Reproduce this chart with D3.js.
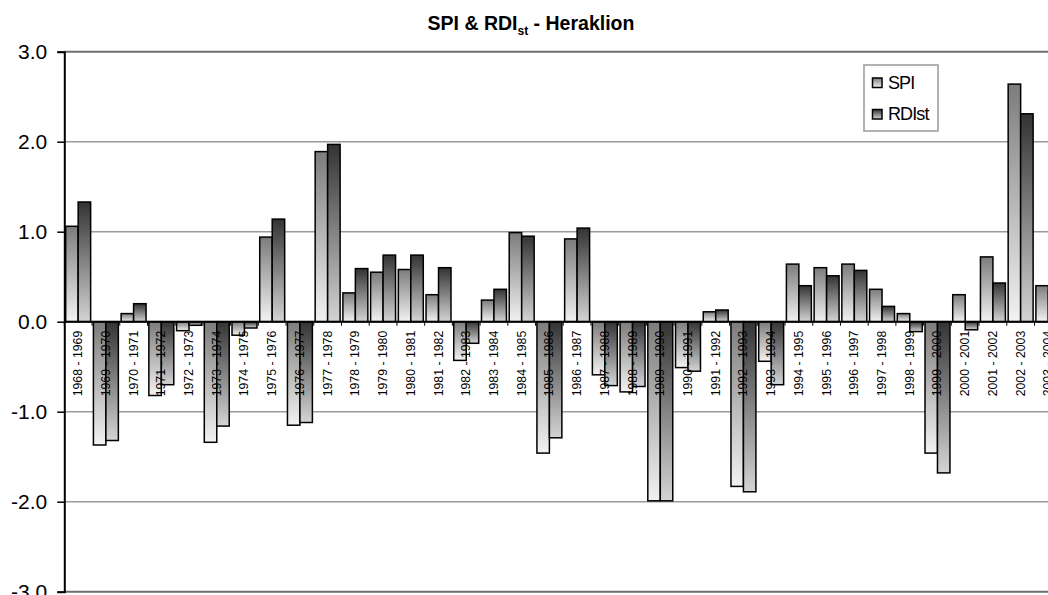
<!DOCTYPE html>
<html>
<head>
<meta charset="utf-8">
<script src="https://cdn.jsdelivr.net/npm/d3@7"></script>
<style>
  html, body { margin: 0; padding: 0; background: #fff; }
  svg { display: block; font-family: "Liberation Sans", Arial, sans-serif; }
</style>
</head>
<body>
<svg id="chart" width="1048" height="595"></svg>
<script>
// hydrological years
const categories = [
  '1968 - 1969', '1969 - 1970', '1970 - 1971', '1971 - 1972', '1972 - 1973', '1973 - 1974',
  '1974 - 1975', '1975 - 1976', '1976 - 1977', '1977 - 1978', '1978 - 1979', '1979 - 1980',
  '1980 - 1981', '1981 - 1982', '1982 - 1983', '1983 - 1984', '1984 - 1985', '1985 - 1986',
  '1986 - 1987', '1987 - 1988', '1988 - 1989', '1989 - 1990', '1990 - 1991', '1991 - 1992',
  '1992 - 1993', '1993 - 1994', '1994 - 1995', '1995 - 1996', '1996 - 1997', '1997 - 1998',
  '1998 - 1999', '1999 - 2000', '2000 - 2001', '2001 - 2002', '2002 - 2003', '2003 - 2004'
];

const spi = [
  1.06, -1.37, 0.09, -0.82, -0.10, -1.34, -0.15, 0.94, -1.15, 1.89, 0.32, 0.55,
  0.58, 0.30, -0.43, 0.24, 0.99, -1.46, 0.92, -0.59, -0.78, -1.99, -0.51, 0.11,
  -1.83, -0.44, 0.64, 0.60, 0.64, 0.36, 0.09, -1.46, 0.30, 0.72, 2.64, 0.40
];

const rdi = [
  1.33, -1.32, 0.20, -0.70, -0.04, -1.16, -0.07, 1.14, -1.12, 1.97, 0.59, 0.74,
  0.74, 0.60, -0.24, 0.36, 0.95, -1.29, 1.04, -0.71, -0.72, -1.99, -0.55, 0.13,
  -1.89, -0.70, 0.40, 0.51, 0.57, 0.17, -0.11, -1.68, -0.09, 0.43, 2.31, 0.35
];

const yTicks = [3, 2, 1, 0, -1, -2, -3];
const yTickLabels = ['3.0', '2.0', '1.0', '0.0', '-1.0', '-2.0', '-3.0'];

const seriesNames = ['SPI', 'RDIst'];

const svg = d3.select('#chart');
const defs = svg.append('defs');

// each bar gets its own top-to-bottom shading, like the Excel fill
const fills = [
  { id: 'gSpi', top: '#7c7c7c', bottom: '#f2f2f2' },
  { id: 'gRdi', top: '#333333', bottom: '#d4d4d4' }
];
fills.forEach(f => {
  const g = defs.append('linearGradient')
    .attr('id', f.id)
    .attr('x1', 0).attr('y1', 0).attr('x2', 0).attr('y2', 1);
  g.append('stop').attr('offset', '0%').attr('stop-color', f.top);
  g.append('stop').attr('offset', '100%').attr('stop-color', f.bottom);
});

const plotLeft = 64.3, plotTop = 51.7, plotBottom = 591.7;
const step = 27.72;

const y = d3.scaleLinear().domain([-3, 3]).range([plotBottom, plotTop]);

const x = d3.scaleBand()
  .domain(categories)
  .range([plotLeft, plotLeft + step * categories.length])
  .paddingInner(0.1)
  .paddingOuter(0.05);

const xs = d3.scaleBand().domain(seriesNames).range([0, x.bandwidth()]);

// gridlines
svg.append('g')
  .selectAll('line')
  .data(yTicks.filter(d => d !== 0))
  .join('line')
  .attr('x1', plotLeft).attr('x2', 1048)
  .attr('y1', d => y(d)).attr('y2', d => y(d))
  .attr('stroke', d => (d === 3 || d === -3) ? '#6e6e6e' : '#9a9a9a')
  .attr('stroke-width', d => (d === 3 || d === -3) ? 2 : 1.5);

// bars
const series = [spi, rdi];
series.forEach((vals, si) => {
  svg.append('g')
    .selectAll('rect')
    .data(vals)
    .join('rect')
    .attr('x', (d, i) => x(categories[i]) + xs(seriesNames[si]))
    .attr('width', xs.bandwidth())
    .attr('y', d => y(Math.max(0, d)))
    .attr('height', d => Math.abs(y(d) - y(0)))
    .attr('fill', `url(#${fills[si].id})`)
    .attr('stroke', '#000')
    .attr('stroke-width', 1.5);
});

// category axis on the zero line
svg.append('line')
  .attr('x1', plotLeft).attr('x2', 1048)
  .attr('y1', y(0)).attr('y2', y(0))
  .attr('stroke', '#000').attr('stroke-width', 2);

svg.append('g')
  .selectAll('line')
  .data(d3.range(categories.length + 1))
  .join('line')
  .attr('x1', i => plotLeft + i * step).attr('x2', i => plotLeft + i * step)
  .attr('y1', y(0)).attr('y2', y(0) + 4)
  .attr('stroke', '#000').attr('stroke-width', 1);

svg.append('g')
  .selectAll('text')
  .data(categories)
  .join('text')
  .attr('transform', d => `translate(${x(d) + x.bandwidth() / 2},${y(0) + 9}) rotate(-90)`)
  .attr('text-anchor', 'end')
  .attr('dominant-baseline', 'central')
  .attr('font-size', 12.3)
  .attr('fill', '#000')
  .text(d => d);

// value axis
const yAxis = svg.append('g').attr('transform', `translate(${plotLeft},0)`)
  .call(d3.axisLeft(y).tickValues(yTicks).tickSize(7).tickFormat((d, i) => yTickLabels[i]));
yAxis.select('.domain').attr('stroke', '#000').attr('stroke-width', 2);
yAxis.selectAll('.tick line').attr('stroke', '#000').attr('stroke-width', 1.5);
yAxis.selectAll('.tick text')
  .attr('font-size', 21)
  .attr('font-family', '"Liberation Sans", Arial, sans-serif')
  .attr('fill', '#000')
  .attr('x', -17);

// title
const title = svg.append('text')
  .attr('x', 531).attr('y', 30)
  .attr('text-anchor', 'middle')
  .attr('font-size', 19.5)
  .attr('font-weight', 'bold');
title.append('tspan').text('SPI & RDI');
title.append('tspan').attr('font-size', 12).attr('dy', 5).text('st');
title.append('tspan').attr('dy', -5).text(' - Heraklion');

// legend
const legend = svg.append('g').attr('transform', 'translate(864,65)');
legend.append('rect')
  .attr('width', 74).attr('height', 66)
  .attr('fill', '#fff').attr('stroke', '#999').attr('stroke-width', 1.5);
seriesNames.forEach((name, i) => {
  const row = legend.append('g').attr('transform', `translate(0,${17.5 + i * 31.5})`);
  row.append('rect')
    .attr('x', 8.5).attr('y', -4.5).attr('width', 9.5).attr('height', 9.5)
    .attr('fill', `url(#${fills[i].id})`)
    .attr('stroke', '#000').attr('stroke-width', 1.5);
  row.append('text')
    .attr('x', 24).attr('y', 0)
    .attr('dominant-baseline', 'central')
    .attr('font-size', 18)
    .attr('letter-spacing', -0.9)
    .text(name);
});
</script>
</body>
</html>
